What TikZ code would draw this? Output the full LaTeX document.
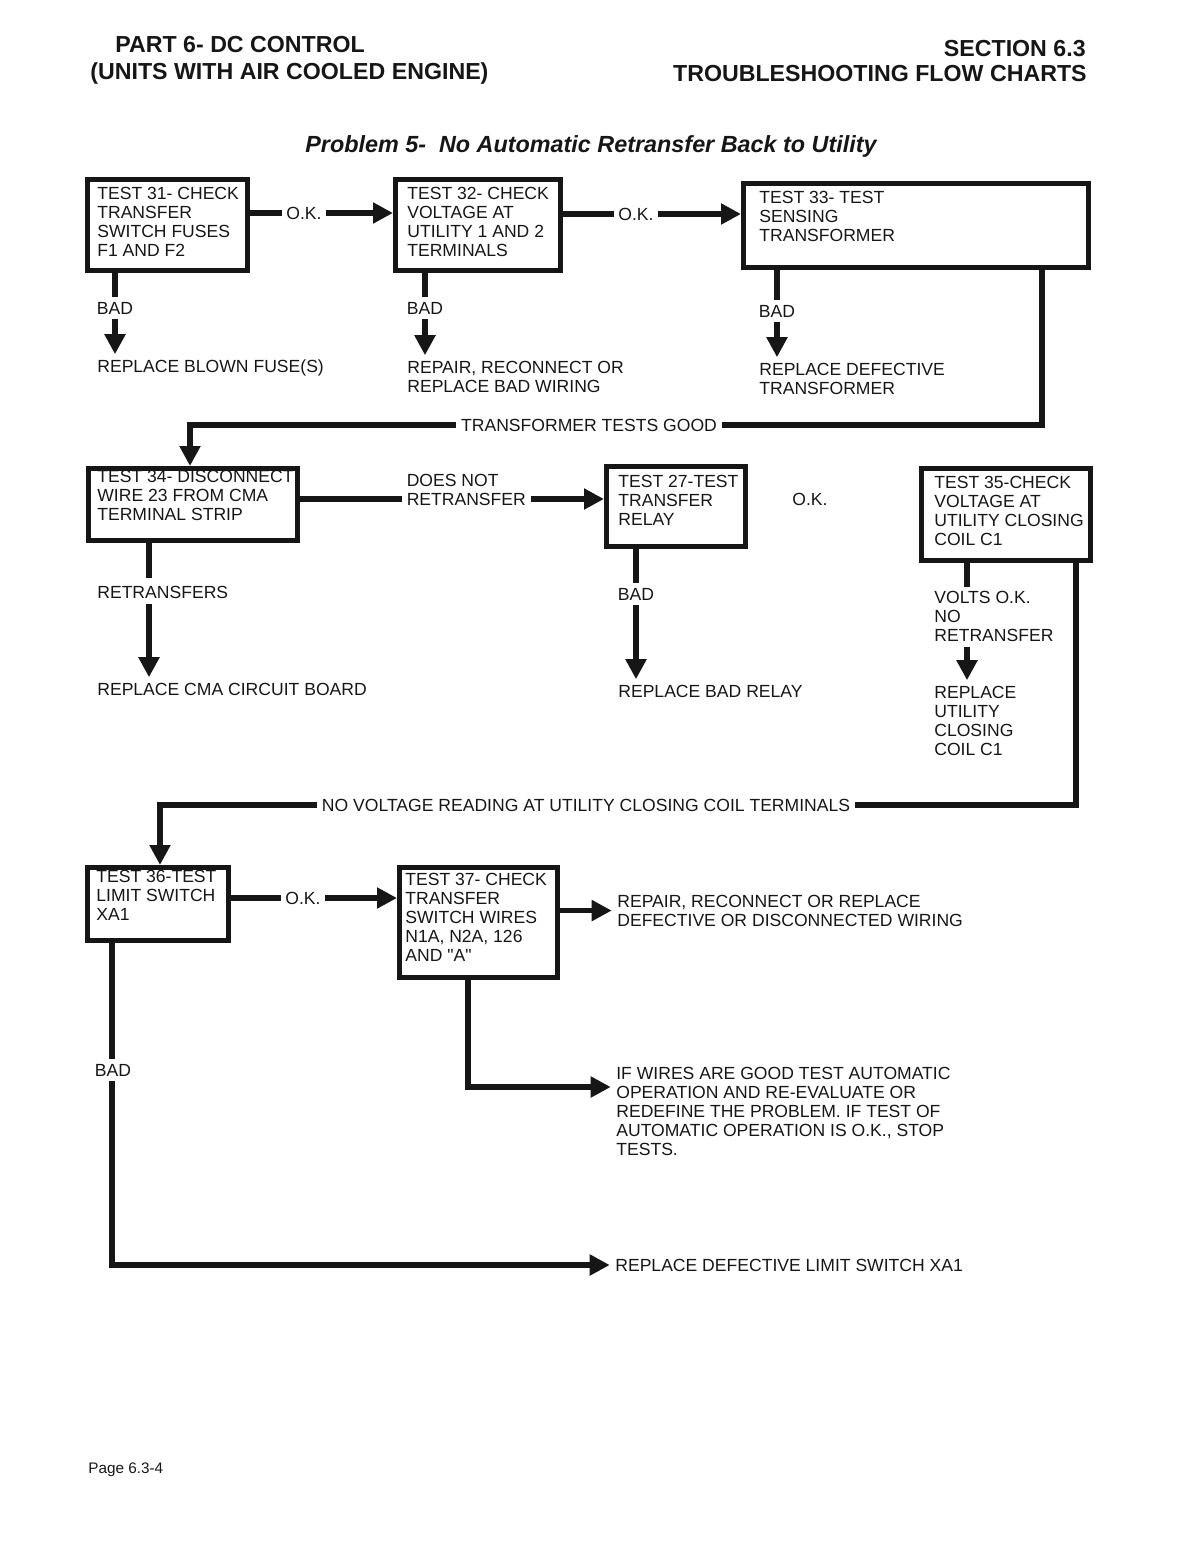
\documentclass[tikz,border=0pt]{standalone}
\usepackage{fontspec}
\setmainfont{Liberation Sans}
\usetikzlibrary{arrows.meta}
\definecolor{scanink}{HTML}{161616}
\newcommand{\bodyfont}{\fontsize{10}{10.8}\selectfont}
\newcommand{\headfont}{\fontsize{13.2}{15}\selectfont\bfseries}
\tikzset{
  testframe/.style={draw, line width=3pt, inner sep=0pt, anchor=north west},
  boxtext/.style={inner sep=0pt, anchor=north west, align=left},
  plain/.style={inner sep=0pt},
  onlink/.style={inner sep=2.5pt},
  flow/.style={line width=3pt},
  arrow/.style={flow, -{Triangle[length=4mm, width=4mm]}},
  down/.style={arrow, shorten >=3pt},
}
% frame at #2 (top left, px), #3 x #4 px, text at #5
\newcommand{\testbox}[6]{%
  \node[testframe, minimum width={#3*0.02cm-3pt}, minimum height={#4*0.02cm-3pt}]
        (#1) at (#2) {};
  \node[boxtext] (#1t) at (#5) {#6};}

\begin{document}
\begin{tikzpicture}[x=0.02cm, y=-0.02cm, font=\bodyfont, color=scanink]
  \useasboundingbox (0,0) rectangle (1187,1544);

  % page head
  \node[plain, anchor=base west, font=\headfont] (part) at (115,53) {PART 6- DC CONTROL};
  \node[plain, anchor=base west, font=\headfont] (units) at (90,80) {(UNITS WITH AIR COOLED ENGINE)};
  \node[plain, anchor=base east, font=\headfont] (sect) at (1086,57) {SECTION 6.3};
  \node[plain, anchor=base east, font=\headfont] (charts) at (1087,82) {TROUBLESHOOTING FLOW CHARTS};
  \node[plain, anchor=base west, font=\fontsize{13.3}{16}\selectfont\bfseries\itshape] (title) at (305,153)
        {Problem 5-\ \ No Automatic Retransfer Back to Utility};

  % tests
  \testbox{t31}{85,177}{165}{96}{97,186.5}{TEST 31- CHECK\\TRANSFER\\SWITCH FUSES\\F1 AND F2}
  \testbox{t32}{393,177}{170}{96}{407,186.5}{TEST 32- CHECK\\VOLTAGE AT\\UTILITY 1 AND 2\\TERMINALS}
  \testbox{t33}{741,181}{350}{89}{759,190.5}{TEST 33- TEST\\SENSING\\TRANSFORMER}
  \testbox{t34}{86,466}{214}{77}{97,470}{TEST 34- DISCONNECT\\WIRE 23 FROM CMA\\TERMINAL STRIP}
  \testbox{t27}{604,464}{144}{85}{618,474.5}{TEST 27-TEST\\TRANSFER\\RELAY}
  \testbox{t35}{919,466}{174}{97}{934,475.5}{TEST 35-CHECK\\VOLTAGE AT\\UTILITY CLOSING\\COIL C1}
  \testbox{t36}{85,865}{146}{78}{96,870}{TEST 36-TEST\\LIMIT SWITCH\\XA1}
  \testbox{t37}{397,865}{163}{115}{405,872.5}{TEST 37- CHECK\\TRANSFER\\SWITCH WIRES\\N1A, N2A, 126\\AND \textquotedbl A\textquotedbl}

  % results
  \node[boxtext] (fuse) at (97,359.5) {REPLACE BLOWN FUSE(S)};
  \node[boxtext] (wiring) at (407,360.5) {REPAIR, RECONNECT OR\\REPLACE BAD WIRING};
  \node[boxtext] (xfmr) at (759,362.5) {REPLACE DEFECTIVE\\TRANSFORMER};
  \node[boxtext] (retr) at (97,585.5) {RETRANSFERS};
  \node[boxtext] (cma) at (97,682.5) {REPLACE CMA CIRCUIT BOARD};
  \node[boxtext] (relay) at (618,684.5) {REPLACE BAD RELAY};
  \node[plain] (ok27) at (810,499) {O.K.};
  \node[boxtext] (voltsok) at (934,590.5) {VOLTS O.K.\\NO\\RETRANSFER};
  \node[boxtext] (coil) at (934,685.5) {REPLACE\\UTILITY\\CLOSING\\COIL C1};
  \node[boxtext] (rewire) at (617,894.5) {REPAIR, RECONNECT OR REPLACE\\DEFECTIVE OR DISCONNECTED WIRING};
  \node[boxtext] (reeval) at (616,1066.5) {IF WIRES ARE GOOD TEST AUTOMATIC\\OPERATION AND RE-EVALUATE OR\\REDEFINE THE PROBLEM. IF TEST OF\\AUTOMATIC OPERATION IS O.K., STOP\\TESTS.};
  \node[boxtext] (limit) at (615,1258.5) {REPLACE DEFECTIVE LIMIT SWITCH XA1};

  % link labels
  \node[onlink] (ok31) at (304,213) {O.K.};
  \node[onlink] (ok32) at (636,214) {O.K.};
  \node[onlink] (bad31) at (115,308) {BAD};
  \node[onlink] (bad32) at (425,308) {BAD};
  \node[onlink] (bad33) at (777,311) {BAD};
  \node[onlink] (good) at (589,425) {TRANSFORMER TESTS GOOD};
  \node[onlink, anchor=west] (notre) at (402,499) {RETRANSFER};
  \node[plain, anchor=base west] (doesnot) at ([shift={(2.5pt,10.8pt)}]notre.base west) {DOES NOT};
  \node[onlink] (bad27) at (636,594) {BAD};
  \node[onlink] (novolt) at (586,805) {NO VOLTAGE READING AT UTILITY CLOSING COIL TERMINALS};
  \node[onlink] (ok36) at (303,898) {O.K.};
  \node[onlink] (bad36) at (113,1070) {BAD};
  \node[plain, anchor=base west, font=\fontsize{8.7}{10}\selectfont] (page) at (88,1473) {Page 6.3-4};

  % bends and columns
  \coordinate (c33) at (1042,425);
  \coordinate (c34) at (190,425);
  \coordinate (k34) at (149,600);
  \coordinate (k35) at (967,600);
  \coordinate (c35) at (1076,805);
  \coordinate (c36) at (160,805);
  \coordinate (j37) at (468,1087);
  \coordinate (j36) at (112,1265);

  % top row
  \draw[arrow] (t31.east |- ok31) -- (ok31) -- (t32.west |- ok31);
  \draw[arrow] (t32.east |- ok32) -- (ok32) -- (t33.west |- ok32);
  \draw[down] (t31.south -| bad31) -- (bad31) -- (bad31 |- fuse.north);
  \draw[down] (t32.south -| bad32) -- (bad32) -- (bad32 |- wiring.north);
  \draw[down] (t33.south -| bad33) -- (bad33) -- (bad33 |- xfmr.north);
  \draw[arrow] (t33.south -| c33) -- (c33) -- (good) -- (c34) -- (t34.north -| c34);

  % middle row
  \draw[arrow] (t34.east |- notre) -- (notre) -- (t27.west |- notre);
  \draw[flow, shorten >=4pt] (t34.south -| k34) -- (retr.north -| k34);
  \draw[down, shorten <=3pt] (retr.south -| k34) -- (cma.north -| k34);
  \draw[down] (t27.south -| bad27) -- (bad27) -- (bad27 |- relay.north);
  \draw[flow, shorten >=2pt] (t35.south -| k35) -- (voltsok.north -| k35);
  \draw[down, shorten <=3pt] (voltsok.south -| k35) -- (coil.north -| k35);
  \draw[arrow] (t35.south -| c35) -- (c35) -- (novolt) -- (c36) -- (t36.north -| c36);

  % bottom row
  \draw[arrow] (t36.east |- ok36) -- (ok36) -- (t37.west |- ok36);
  \draw[down] (t37.east |- rewire.west) -- (rewire.west);
  \draw[down] (t37.south -| j37) -- (j37) -- (reeval.west |- j37);
  \draw[flow] (t36.south -| j36) -- (bad36.north -| j36);
  \draw[down] (bad36.south -| j36) -- (j36) -- (limit.west |- j36);
\end{tikzpicture}
\end{document}
